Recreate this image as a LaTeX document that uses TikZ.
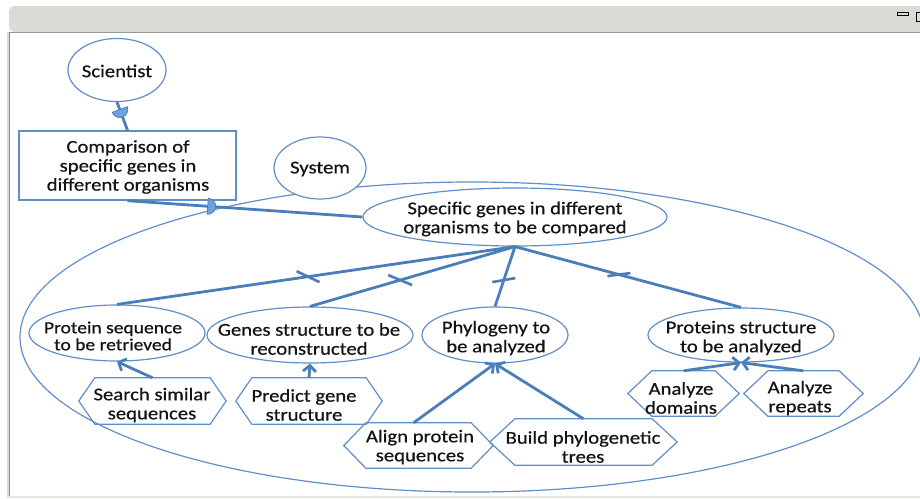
\documentclass[tikz,border=0pt]{standalone}
\usepackage{fontspec}
\setmainfont{Carlito}[FakeStretch=1.15,FakeBold=0.6]
\usetikzlibrary{arrows.meta,calc,shapes.geometric,decorations.markings}
\definecolor{lnblue}{RGB}{74,126,187}
\definecolor{shblue}{RGB}{96,142,200}
\definecolor{dfill}{RGB}{110,160,220}
\definecolor{barg}{RGB}{220,218,213}
\definecolor{txtc}{RGB}{20,20,20}
\newcommand\Dshape{\filldraw[fill=dfill,draw=lnblue,line width=0.8pt] (-2,-8) arc[start angle=-90,end angle=90,radius=8] -- cycle;}
\newcommand\hexdraw[2]{\draw[shp] (#1.west) -- ($(#1.north west)+(#2,0)$) -- ($(#1.north east)+(-#2,0)$) -- (#1.east) -- ($(#1.south east)+(-#2,0)$) -- ($(#1.south west)+(#2,0)$) -- cycle;}
\begin{document}
\begin{tikzpicture}[x=1pt,y=-1pt,
  shp/.style={draw=shblue,line width=1.2pt},
  ell/.style={shp,ellipse,inner sep=0pt,fill=white},
  hexbox/.style={draw=none,rectangle,inner sep=0pt},
  txt/.style={align=center,font=\fontsize{18}{19}\selectfont,inner sep=0pt,text=txtc},
  lnk/.style={draw=lnblue,line width=2.8pt},
  meansend/.style={lnk,-{Straight Barb[length=6pt,width=13pt]}},
  depend/.style={lnk,postaction={decorate},decoration={markings,mark=at position #1 with {\Dshape}}}
]
\useasboundingbox (0,0) rectangle (920,498);
% window chrome
\fill[barg,rounded corners=5pt] (9,32) -- (9,6) -- (930,6) -- (930,32) -- cycle;
\draw[black!40] (9,32) -- (920,32);
\fill[barg] (7,32) rectangle (10,496);
\draw[black!45,line width=0.8pt] (9.6,32) -- (9.6,496);
\fill[barg!70] (7,496) rectangle (920,498);
\draw[black,line width=1pt] (897,12) rectangle (908,15);
\draw[black,line width=1pt] (916,12) rectangle (926,21);

% actor boundary
\node[shp,ellipse,inner sep=0pt,minimum width=904pt,minimum height=310pt] (bound) at (472,337) {};

% actors and dependum
\node[ell,minimum width=98pt,minimum height=63pt] (sci) at (117,70) {};
\node[txt] (scit) at (117,71) {Scientist};
\node[shp,rectangle,fill=white,line width=1.4pt,minimum width=217pt,minimum height=69pt,inner sep=0pt] (cmp) at (127.5,165.5) {};
\node[txt] (cmpt) at (128,167) {Comparison of\\specific genes in\\different organisms};
\node[ell,minimum width=92pt,minimum height=62pt] (sys) at (320,168) {};
\node[txt] (syst) at (320,169) {System};

% goals
\node[ell,minimum width=304pt,minimum height=58pt] (g) at (515,217) {};
\node[txt] (gt) at (515,219) {Specific genes in different\\organisms to be compared};
\node[ell,minimum width=176pt,minimum height=56pt] (s1) at (117,333) {};
\node[txt,font=\fontsize{17}{17}\selectfont] (s1t) at (113,336) {Protein sequence\\to be retrieved};
\node[ell,minimum width=206pt,minimum height=56pt] (s2) at (310,335) {};
\node[txt] (s2t) at (309,339) {Genes structure to be\\reconstructed};
\node[ell,minimum width=146pt,minimum height=56pt] (s3) at (495,335) {};
\node[txt] (s3t) at (496,338) {Phylogeny to\\be analyzed};
\node[ell,minimum width=186pt,minimum height=54pt] (s4) at (741,335) {};
\node[txt] (s4t) at (741,338) {Proteins structure\\to be analyzed};

% tasks
\node[hexbox,minimum width=147pt,minimum height=46pt] (se) at (152.5,401) {};
\hexdraw{se}{16}
\node[txt] (set) at (152,405) {Search similar\\sequences};
\node[hexbox,minimum width=146pt,minimum height=46pt] (pr) at (309,401) {};
\hexdraw{pr}{16}
\node[txt] (prt) at (304,405) {Predict gene\\structure};
\node[hexbox,minimum width=149pt,minimum height=45pt] (al) at (418.5,445.5) {};
\hexdraw{al}{22}
\node[txt] (alt) at (420,447) {Align protein\\sequences};
\node[hexbox,minimum width=187pt,minimum height=46pt] (bu) at (583.5,442) {};
\hexdraw{bu}{25}
\node[txt] (but) at (583,447) {Build phylogenetic\\trees};
\node[hexbox,minimum width=111pt,minimum height=45pt] (ad) at (683.5,393.5) {};
\hexdraw{ad}{24}
\node[txt] (adt) at (681,398) {Analyze\\domains};
\node[hexbox,minimum width=119pt,minimum height=45pt] (ar) at (803.5,393.5) {};
\hexdraw{ar}{24}
\node[txt] (art) at (800,398) {Analyze\\repeats};

% dependency links
\draw[depend=0.33] (sci.south) -- (cmp.north);
\draw[depend=0.35] (cmp.south) -- (g.west);

% decomposition links with ticks
\draw[lnk] (g.south) -- (s1.north);
\draw[lnk] (g.south) -- (s2.north);
\draw[lnk] (g.south) -- (s3.north);
\draw[lnk] (g.south) -- (s4.north);
\draw[draw=lnblue,line width=2.6pt] ($(g.south)!0.52!(s1.north)$) ++(-11.5,-5.5) -- ++(23,11);
\draw[draw=lnblue,line width=2.6pt] ($(g.south)!0.56!(s2.north)$) ++(-12,-5) -- ++(24,10);
\draw[draw=lnblue,line width=2.6pt] ($(g.south)!0.56!(s3.north)$) ++(-11.5,2) -- ++(23,-4);
\draw[draw=lnblue,line width=2.6pt] ($(g.south)!0.46!(s4.north)$) ++(-11.5,1.5) -- ++(23,-3);

% means-end links
\draw[meansend] (se.north) -- (s1.south);
\draw[meansend] (pr.north) -- (s2.south);
\draw[meansend] ($(al.north)+(-5,0)$) -- (s3.south);
\draw[meansend] (bu.north) -- (s3.south);
\draw[meansend] (ad.north) -- (s4.south);
\draw[meansend] (ar.north) -- (s4.south);
\end{tikzpicture}
\end{document}
